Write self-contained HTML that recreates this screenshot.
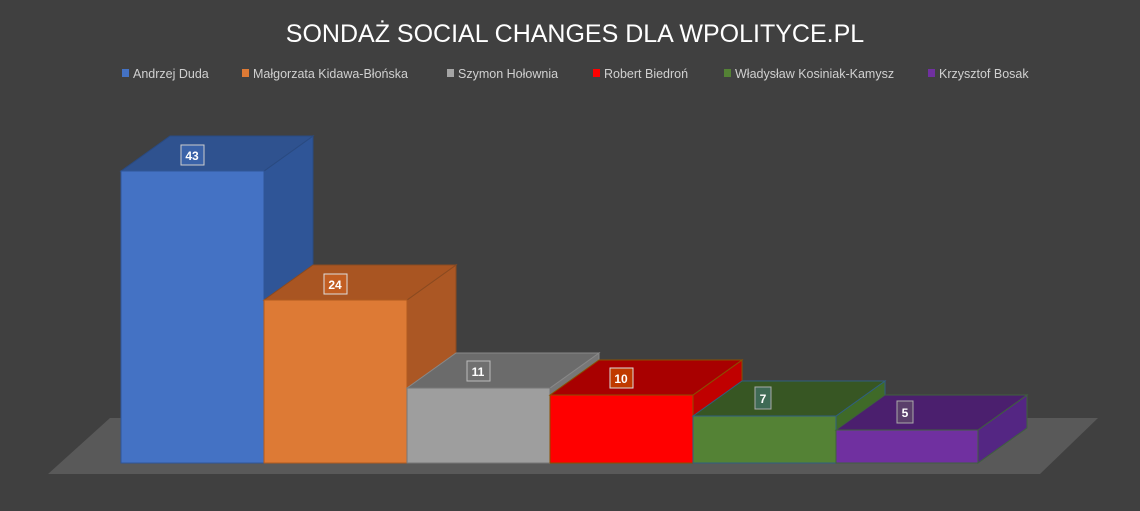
<!DOCTYPE html>
<html><head><meta charset="utf-8"><style>
body{margin:0;background:#404040;}
svg{display:block;font-family:"Liberation Sans",sans-serif;}
</style></head><body>
<svg width="1140" height="511" viewBox="0 0 1140 511" xmlns="http://www.w3.org/2000/svg">
<rect width="1140" height="511" fill="#404040"/>
<text x="575" y="42" text-anchor="middle" fill="#fff" font-size="25">SONDAŻ SOCIAL CHANGES DLA WPOLITYCE.PL</text>
<g font-size="12.5" fill="#d0d0d0">
<rect x="122" y="69" width="7" height="8" fill="#4472c4"/><text x="133" y="78">Andrzej Duda</text>
<rect x="242" y="69" width="7" height="8" fill="#dd7a35"/><text x="253" y="78">Małgorzata Kidawa-Błońska</text>
<rect x="447" y="69" width="7" height="8" fill="#a5a5a5"/><text x="458" y="78">Szymon Hołownia</text>
<rect x="593" y="69" width="7" height="8" fill="#ff0000"/><text x="604" y="78">Robert Biedroń</text>
<rect x="724" y="69" width="7" height="8" fill="#548235"/><text x="735" y="78">Władysław Kosiniak-Kamysz</text>
<rect x="928" y="69" width="7" height="8" fill="#7030a0"/><text x="939" y="78">Krzysztof Bosak</text>
</g>
<polygon points="48,474 1040,474 1098,418 110,418" fill="#595959"/>
<g stroke-width="1">
<!-- bar: front x, width 143, top y, bottom 463, depth dx 49 dy -35 -->
<!-- Duda -->
<polygon points="264,171 313,136 313,428 264,463" fill="#2f5597" stroke="#2a4a80"/>
<polygon points="121,171 170,136 313,136 264,171" fill="#2f528f" stroke="#2a4a80"/>
<rect x="121" y="171" width="143" height="292" fill="#4472c4" stroke="#2f5597"/>
<!-- Kidawa -->
<polygon points="407,300 456,265 456,428 407,463" fill="#ab5724" stroke="#8a4a20"/>
<polygon points="264,300 313,265 456,265 407,300" fill="#a95522" stroke="#8a4a20"/>
<rect x="264" y="300" width="143" height="163" fill="#dd7a35" stroke="#b05a20"/>
<!-- Holownia -->
<polygon points="550,388 599,353 599,428 550,463" fill="#777" stroke="#888"/>
<polygon points="407,388 456,353 599,353 550,388" fill="#6b6b6b" stroke="#888"/>
<rect x="407" y="388" width="143" height="75" fill="#9e9e9e" stroke="#777"/>
<!-- Biedron -->
<polygon points="693,395 742,360 742,428 693,463" fill="#c00000" stroke="#8a5000"/>
<polygon points="550,395 599,360 742,360 693,395" fill="#a80000" stroke="#8a5000"/>
<rect x="550" y="395" width="143" height="68" fill="#ff0000" stroke="#8a5000"/>
<!-- Kosiniak -->
<polygon points="836,416 885,381 885,428 836,463" fill="#3f6a28" stroke="#2f5f7f"/>
<polygon points="693,416 742,381 885,381 836,416" fill="#375623" stroke="#2f5f7f"/>
<rect x="693" y="416" width="143" height="47" fill="#548235" stroke="#2f5f7f"/>
<!-- Bosak -->
<polygon points="978,430 1027,395 1027,428 978,463" fill="#542683" stroke="#3f5f3f"/>
<polygon points="836,430 885,395 1027,395 978,430" fill="#4b1f6e" stroke="#3f5f3f"/>
<rect x="836" y="430" width="142" height="33" fill="#7030a0" stroke="#3f5f3f"/>
</g>
<g font-size="12" font-weight="bold" fill="#fff" text-anchor="middle">
<rect x="181" y="145" width="23" height="20" fill="#3a62a8" stroke="#ccc"/><text x="192" y="160">43</text>
<rect x="324" y="274" width="23" height="20" fill="#c25e22" stroke="#ddd"/><text x="335" y="289">24</text>
<rect x="467" y="361" width="23" height="20" fill="#707070" stroke="#bbb"/><text x="478" y="376">11</text>
<rect x="610" y="368" width="23" height="20" fill="#c03a00" stroke="#ddd"/><text x="621" y="383">10</text>
<rect x="755" y="387" width="16" height="22" fill="#3f6a55" stroke="#aaa"/><text x="763" y="403">7</text>
<rect x="897" y="401" width="16" height="22" fill="#5a3f6a" stroke="#aaa"/><text x="905" y="417">5</text>
</g>
</svg>
</body></html>
